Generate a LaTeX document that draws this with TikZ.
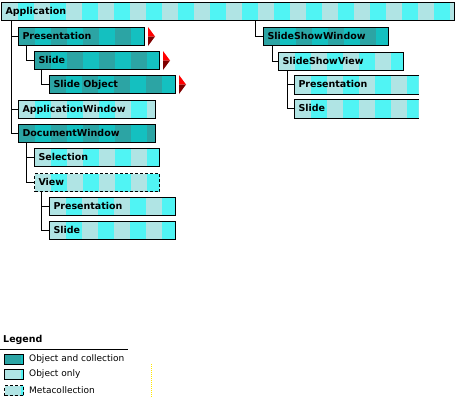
\documentclass[tikz,border=0pt]{standalone}
\usepackage{fontspec}
\setmainfont{DejaVu Sans}
\definecolor{lightbase}{HTML}{B0E4E4}
\definecolor{lightstripe}{HTML}{50F4F4}
\definecolor{darkbase}{HTML}{2CA4A4}
\definecolor{darkstripe}{HTML}{14C0C0}
\definecolor{tipred}{HTML}{FF0000}
\definecolor{tipdark}{HTML}{800000}
\definecolor{markyellow}{HTML}{FFE800}
\newcommand\moremark[1]{%
  \fill[tipred] ([xshift=3pt]#1.north east) -- ([xshift=10pt]#1.east) -- ([xshift=3pt]#1.east) -- cycle;
  \fill[tipdark] ([xshift=3pt]#1.east) -- ([xshift=10pt]#1.east) -- ([xshift=3pt]#1.south east) -- cycle;}
\tikzset{
  stripes/.style 2 args={fill=#1, path picture={
      \foreach \s in {0,32,...,448}
        \fill[#2] ([xshift={(\s+16)*1pt}]path picture bounding box.south west)
          rectangle ([xshift={(\s+32)*1pt}]path picture bounding box.north west);}},
  box/.style={draw, line width=1pt, anchor=north west, minimum height=18pt,
    inner xsep=4pt, inner ysep=0pt, align=left, text height=7pt, text depth=2pt,
    font=\fontsize{9.5}{11}\selectfont\bfseries},
  objcoll/.style={box, stripes={darkbase}{darkstripe}},
  objonly/.style={box, stripes={lightbase}{lightstripe}},
  meta/.style={objonly, dash pattern=on 3pt off 2pt},
  openbox/.style={objonly, draw=none},
  swatch/.style={draw, line width=1pt, anchor=north west, minimum width=19pt, minimum height=10pt, inner sep=0pt},
  legtext/.style={anchor=west, inner sep=0pt, font=\fontsize{9}{11}\selectfont},
  link/.style={line width=1pt},
}
\begin{document}
\begin{tikzpicture}[x=1pt, y=-1pt]
    \useasboundingbox (0,0) rectangle (455,402);

    % object tree
    \node[objonly, text width=445pt] (app) at (1,2) {Application};
    \node[objcoll, text width=118pt] (pres) at (18,27) {Presentation};
    \node[objcoll, text width=117pt] (slide) at (34,51) {Slide};
    \node[objcoll, text width=118pt] (sobj) at (49,75) {Slide Object};
    \node[objonly, text width=129pt] (appwin) at (18,100) {ApplicationWindow};
    \node[objcoll, text width=129pt] (docwin) at (18,124) {DocumentWindow};
    \node[objonly, text width=117pt] (sel) at (34,148) {Selection};
    \node[meta, text width=117pt] (view) at (34,173) {View};
    \node[objonly, text width=118pt] (vpres) at (49,197) {Presentation};
    \node[objonly, text width=118pt] (vslide) at (49,221) {Slide};

    \node[objcoll, text width=117pt] (ssw) at (263,27) {SlideShowWindow};
    \node[objonly, text width=117pt] (ssv) at (278,52) {SlideShowView};
    \node[openbox, text width=116pt] (spres) at (294,75) {Presentation};
    \node[openbox, text width=116pt] (sslide) at (294,99) {Slide};
    \draw[line width=1pt] (spres.north east) -- (spres.north west) -- (spres.south west) -- (spres.south east);
    \draw[line width=1pt] (sslide.north east) -- (sslide.north west) -- (sslide.south west) -- (sslide.south east);

    \moremark{pres}
    \moremark{slide}
    \moremark{sobj}

    % links
    \draw[link] ([xshift=10pt]app.south west) |- (pres.west);
    \draw[link] ([xshift=10pt]app.south west) |- (appwin.west);
    \draw[link] ([xshift=10pt]app.south west) |- (docwin.west);
    \draw[link] ([xshift=8pt]pres.south west) |- (slide.west);
    \draw[link] ([xshift=7pt]slide.south west) |- (sobj.west);
    \draw[link] ([xshift=8pt]docwin.south west) |- (sel.west);
    \draw[link] ([xshift=8pt]docwin.south west) |- (view.west);
    \draw[link] ([xshift=7pt]view.south west) |- (vpres.west);
    \draw[link] ([xshift=7pt]view.south west) |- (vslide.west);
    \draw[link] ([xshift=-8pt]ssw.west |- app.south) |- (ssw.west);
    \draw[link] ([xshift=9pt]ssw.south west) |- (ssv.west);
    \draw[link] ([xshift=9pt]ssv.south west) |- (spres.west);
    \draw[link] ([xshift=9pt]ssv.south west) |- (sslide.west);

    % legend
    \node[anchor=west, inner sep=0pt, font=\fontsize{9.5}{11}\selectfont\bfseries] (leg) at (3,340) {Legend};
    \coordinate (legend start) at (0,349);
    \coordinate (legend end) at (128,349);
    \draw[line width=1pt] (legend start) -- (legend end);
    \node[swatch, stripes={darkbase}{darkstripe}] (sw1) at (4,354) {};
    \node[swatch, stripes={lightbase}{lightstripe}] (sw2) at (4,369) {};
    \node[swatch, stripes={lightbase}{lightstripe}, dash pattern=on 3pt off 2pt] (sw3) at (4,385) {};
    \node[legtext] (l1) at (29,359) {Object and collection};
    \node[legtext] (l2) at (29,374.5) {Object only};
    \node[legtext] (l3) at (29,390) {Metacollection};
    \coordinate (mark top) at (151,364);
    \coordinate (mark bottom) at (151,397);
    \draw[markyellow, line width=1pt, dash pattern=on 1pt off 1pt] (mark top) -- (mark bottom);
\end{tikzpicture}
\end{document}
